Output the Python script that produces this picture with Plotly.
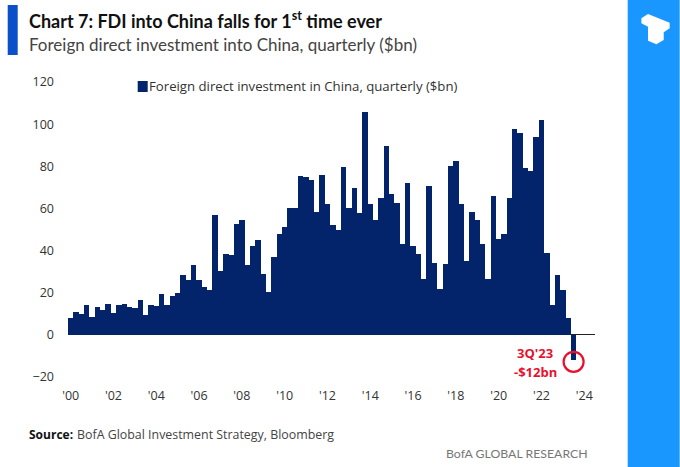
import plotly.graph_objects as go

# Quarterly FDI into China ($bn), 1Q2000 to 3Q2023
fdi = [
    7.8, 10.8, 10, 14,   8.4, 13, 11.9, 14.7,   10.4, 14.4, 14.7, 13.3,
    12.8, 16.6, 9.2, 14.2,   13.9, 19.3, 14, 18.5,   19.8, 28.3, 26, 33,
    26, 22.8, 21.2, 56.8,   30.5, 38.4, 38, 52.5,   54.4, 33, 42, 45,
    29, 20.5, 37, 48,   51, 60, 60, 75.5,   74.7, 73.6, 58.4, 76,
    62, 52, 50, 79.6,   60.3, 69.6, 58, 106,   62, 54.6, 64.9, 89.7,
    67, 62.5, 43, 72.3,   42.4, 38.6, 26.7, 70.6,   34, 22, 33.5, 80,
    82.6, 62.3, 35, 58.2,   54.6, 43, 26.7, 66,   45.6, 47.8, 65, 97.8,
    96, 79.4, 77.8, 93.8,   102, 39, 14, 28.6,   21.4, 7.8, -12,
]
quarters = list(range(len(fdi)))
x_ticks = list(range(0, 97, 8))
x_labels = ["'00", "'02", "'04", "'06", "'08", "'10", "'12", "'14", "'16", "'18", "'20", "'22", "'24"]
y_ticks = [-20, 0, 20, 40, 60, 80, 100, 120]
highlight_x = [94]
highlight_y = [-12.8]
series_name = "Foreign direct investment in China, quarterly ($bn)"

NAVY = "#03236B"
RED = "#E8112D"
W, H = 680, 467
L, R, T, B = 68.3, 595.3, 82, 377

def px(x):
    return (x - L) / (R - L)

def py(y):
    return (B - y) / (B - T)

fig = go.Figure()
fig.add_trace(go.Bar(
    x=quarters, y=fdi, width=1, marker=dict(color=NAVY, line=dict(width=0)),
    name=series_name, showlegend=False,
))
fig.add_trace(go.Scatter(
    x=highlight_x, y=highlight_y, mode="markers", showlegend=False, hoverinfo="skip",
    marker=dict(symbol="circle-open", size=20, color=RED, line=dict(color=RED, width=2.2)),
))

def text(x, y, s, size, color="#222222", anchor="left", family="Open Sans"):
    fig.add_annotation(xref="paper", yref="paper", x=px(x), y=py(y), text=s, showarrow=False,
                       xanchor=anchor, yanchor="middle", align=anchor, xshift=0,
                       borderpad=0, borderwidth=0,
                       font=dict(family=family, size=size, color=color))

text(29, 20, "<b>Chart 7: FDI into China falls for 1<sup>st</sup> time ever</b>", 18, "#111111", family="Lato")
text(29, 45, "Foreign direct investment into China, quarterly ($bn)", 17, "#444444", family="Lato")
text(149, 86, series_name, 13.2, "#333333")
text(535, 353, "<b>3Q'23</b>", 13, RED, "center")
text(536, 372, "<b>-$12bn</b>", 13, RED, "center")
text(29, 434, "<b>Source:</b>", 12, "#111111")
text(77, 434, "BofA Global Investment Strategy, Bloomberg", 12.4, "#444444")
text(588, 453, "BofA GLOBAL RESEARCH", 12.3, "#777777", "right", family="Lato")

shapes = [
    dict(type="rect", xref="paper", yref="paper", x0=px(8), x1=px(18), y0=py(55), y1=py(5),
         fillcolor="#0A50C8", line=dict(width=0)),
    dict(type="rect", xref="paper", yref="paper", x0=px(628), x1=px(680), y0=py(467), y1=py(0),
         fillcolor="#1A97FF", line=dict(width=0)),
    dict(type="rect", xref="paper", yref="paper", x0=px(138), x1=px(148), y0=py(92), y1=py(81),
         fillcolor=NAVY, line=dict(width=0)),
]
logo = [(641.7, 18.3), (648.3, 14), (670, 22.7), (670, 28.3), (664, 32.3), (664, 40),
        (656.7, 44.3), (648.3, 40.7), (648.3, 26.7), (641.7, 23.3)]
path = "M " + " L ".join(f"{px(a):.4f},{py(b):.4f}" for a, b in logo) + " Z"
shapes.append(dict(type="path", xref="paper", yref="paper", path=path, fillcolor="white", line=dict(width=0)))

fig.update_layout(
    width=W, height=H, autosize=False, paper_bgcolor="white", plot_bgcolor="white",
    margin=dict(l=L, r=W - R, t=T, b=H - B, pad=0),
    shapes=shapes, bargap=0, showlegend=False,
    font=dict(family="Open Sans", color="#333333", size=12.5),
    xaxis=dict(range=[-0.5, 98], tickmode="array", tickvals=x_ticks, ticktext=x_labels,
               showgrid=False, zeroline=False, showline=False, ticks="", ticklabelstandoff=9),
    yaxis=dict(range=[-20, 120], tickmode="array", tickvals=y_ticks,
               showgrid=False, zeroline=True, zerolinecolor="#222222", zerolinewidth=1,
               showline=False, ticks="", ticklabelstandoff=13),
)
fig.write_html("out.html", config={"displayModeBar": False},
               post_script="document.body.style.margin='0';document.documentElement.style.overflow='hidden';")
